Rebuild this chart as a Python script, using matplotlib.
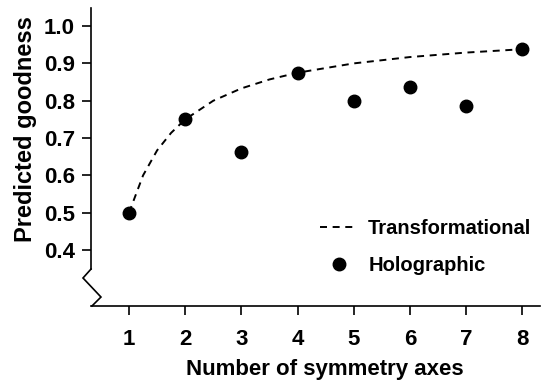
import matplotlib
matplotlib.use("Agg")
import matplotlib.pyplot as plt

plt.rcParams["font.family"] = ["Liberation Sans", "DejaVu Sans"]
plt.rcParams["font.weight"] = "bold"

# number of symmetry axes
axes_n = [1, 2, 3, 4, 5, 6, 7, 8]
# holographic model predictions (dots)
holo = [0.50, 0.75, 0.662, 0.875, 0.80, 0.837, 0.787, 0.938]
# transformational model curve
trans_x = [1, 1.25, 1.5, 1.75, 2, 2.5, 3, 3.5, 4, 5, 6, 7, 8]
trans_y = [0.50, 0.60, 0.667, 0.714, 0.75, 0.80, 0.833, 0.857, 0.875,
           0.90, 0.917, 0.929, 0.938]
yticks = [0.4, 0.5, 0.6, 0.7, 0.8, 0.9, 1.0]

TICKFONT = 16
LEGENDFONT = 14.5
XLABELFONT = 16
YLABELFONT = 17

fig = plt.figure(figsize=(5.5, 3.89), dpi=100)
ax = fig.add_axes([0.1655, 0.2134, 0.8165, 0.7656])

ax.plot(trans_x, trans_y, color="black", lw=1.4, ls=(0, (3.6, 2.9)),
        label="Transformational")
ax.plot(axes_n, holo, "o", color="black", ms=9, ls="none",
        label="Holographic")

ax.set_xlim(0.323, 8.32)
ax.set_ylim(0.25, 1.048)
ax.set_xticks(axes_n)
ax.set_yticks(yticks)
ax.set_yticklabels(["{:.1f}".format(v) for v in yticks])
ax.tick_params(axis="both", labelsize=TICKFONT, width=1.2, length=6.5,
               direction="out")
ax.tick_params(axis="x", pad=10)
ax.tick_params(axis="y", pad=5)
for lab in ax.get_xticklabels() + ax.get_yticklabels():
    lab.set_fontweight("bold")

for side in ["top", "right"]:
    ax.spines[side].set_visible(False)
for side in ["left", "bottom"]:
    ax.spines[side].set_linewidth(1.2)
ax.spines["left"].set_bounds(0.349, 1.048)

# axis break zigzag
ax.plot([0.323, 0.18, 0.50, 0.34], [0.349, 0.325, 0.274, 0.25],
        color="black", lw=1.2, clip_on=False, solid_joinstyle="miter")

ax.set_xlabel("Number of symmetry axes", fontsize=XLABELFONT, fontweight="bold")
ax.set_ylabel("Predicted goodness", fontsize=YLABELFONT, fontweight="bold")
ax.xaxis.set_label_coords(0.521, -0.178)
ax.yaxis.set_label_coords(-0.12, 0.594)

ax.legend(loc="center left", bbox_to_anchor=(0.582, 0.365),
          bbox_transform=fig.transFigure, frameon=False, borderpad=0,
          borderaxespad=0, handlelength=1.84, handletextpad=0.55,
          labelspacing=0.9, prop={"size": LEGENDFONT, "weight": "bold"})

fig.savefig("out.png", dpi=100)
